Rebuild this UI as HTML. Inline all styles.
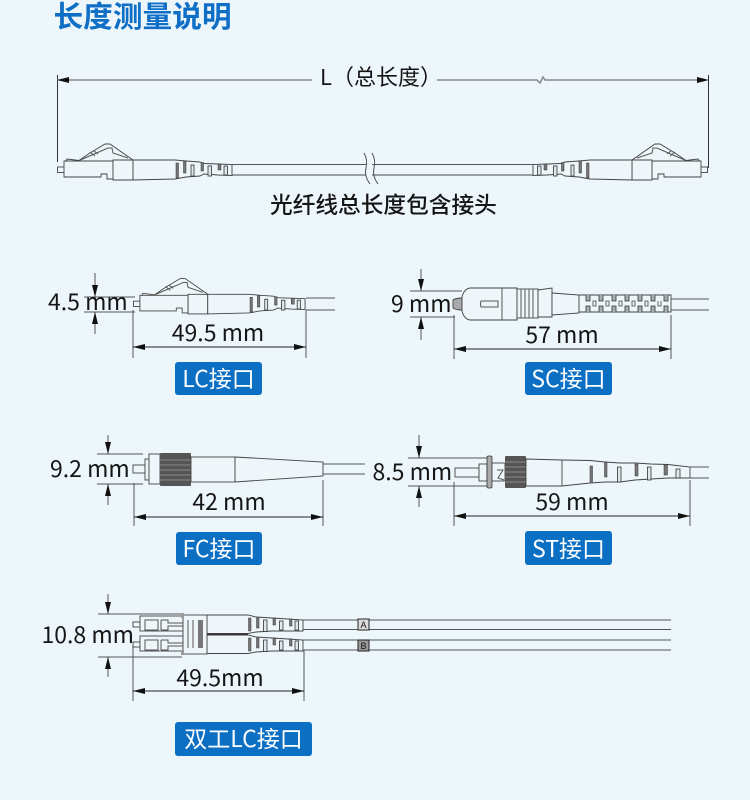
<!DOCTYPE html>
<html><head><meta charset="utf-8"><style>
html,body{margin:0;padding:0;background:#edf6fa}
svg{display:block}
text{font-family:"Liberation Sans","Noto Sans CJK SC",sans-serif}
.t{font-family:"Noto Sans CJK SC","Liberation Sans",sans-serif;font-size:23px;fill:#151515}
.b{font-family:"Noto Sans CJK SC","Liberation Sans",sans-serif;font-size:23px;fill:#fff;text-anchor:middle}
.d{stroke:#555;stroke-width:1;fill:none}
.o{stroke:#444;stroke-width:.9;fill:#eef6fa}
.a{fill:#111;stroke:none}
.r{fill:#777;stroke:#333;stroke-width:.5}
.s{fill:#dfe8ec;stroke:#333;stroke-width:.8}
</style></head><body>
<svg width="750" height="800" viewBox="0 0 750 800" xmlns="http://www.w3.org/2000/svg">
<defs>
<g id="lc">
<rect class="o" x="57.500" y="167" width="7" height="5.500"/>
<path class="o" d="M66 161L67 159L79 160.500L90 153L105 144L110 144L133 160V162H66Z"/>
<path class="d" d="M79 160.500L92 155L108 148L112 148L113 153L128 158M90 152L95 156M94 151L98 154"/>
<path class="o" d="M64 161H113V179H107V174H101V177H64Z"/>
<path class="o" d="M113 160H133V180H113Z"/>
<path class="o" d="M133 160H175L186 161L200 162L204 163.500L218 164L232 164.500V175.500L218 175L204 174L200 176L186 177L175 179L133 180Z"/>
<rect class="r" x="176" y="163" width="2.500" height="15"/>
<rect class="r" x="183.500" y="161" width="2.500" height="12"/>
<rect class="s" x="191" y="165" width="3" height="11"/>
<rect class="r" x="201" y="162.500" width="2.500" height="8.500"/>
<rect class="s" x="208" y="166" width="3.500" height="10"/>
<rect class="r" x="218" y="164" width="3" height="6"/>
<rect class="s" x="224" y="166" width="3.500" height="9"/>
</g>
<g id="dc">
<rect class="o" x="133" y="622" width="7" height="5"/>
<rect class="o" x="140" y="616" width="43" height="15"/>
<path class="d" d="M145 620H158V630H145ZM161 620V630M161 620H168V623H183M161 630H168V626H183"/>
<path class="o" d="M207 615H248L256 617L272 618L288 619L303 620V631L288 631L272 631L256 632L248 633.500H207Z"/>
<rect class="r" x="248.500" y="618" width="2.500" height="13"/>
<rect class="r" x="256.500" y="618" width="2.500" height="10"/>
<rect class="s" x="263.500" y="620" width="3.500" height="11.500"/>
<rect class="r" x="273" y="618" width="2.500" height="7"/>
<rect class="s" x="279.500" y="621" width="3.500" height="9"/>
<rect class="r" x="289.500" y="619" width="2.500" height="7"/>
<rect class="s" x="295" y="621" width="3.500" height="9"/>
</g>
</defs>
<rect width="750" height="800" fill="#edf6fa"/>
<text x="53.500" y="27" font-size="29.700" font-weight="700" fill="#0f6fc6" style='font-family:"Noto Sans CJK SC",sans-serif'>长度测量说明</text>

<!-- total -->
<path d="M57.500 75V162M708.500 75V168" stroke="#333" fill="none"/>
<path d="M57 80H312M437 80H537L540 83L543 77L545 80H698" stroke="#888" stroke-width="1.500" fill="none"/>
<path class="a" d="M57 80L69 77V83ZM709 80L697 77V83Z"/>
<text class="t" x="320" y="85" style="font-size:22px">L（总长度）</text>
<path d="M232 164.500H533" stroke="#555" fill="none"/>
<path d="M232 175H533" stroke="#808080" stroke-width="1.600" fill="none"/>
<use href="#lc"/>
<use href="#lc" transform="matrix(-1 0 0 1 765 0)"/>
<rect x="366" y="158" width="6" height="24" fill="#edf6fa"/>
<path d="M364 153Q368 160 366 168T370 184" stroke="#555" fill="none"/>
<path d="M372 153Q376 160 374 168T378 184" stroke="#555" fill="none"/>
<text class="t" x="270" y="213" style="font-size:22.700px;font-weight:500">光纤线总长度包含接头</text>

<!-- LC -->
<path class="d" d="M306 298H335M306 310H335"/>
<g transform="translate(77 137) scale(.983)"><use href="#lc"/></g>
<path class="d" d="M95 273V297M95 312V334M84 297H135M84 312H135M133 310V358M306 310V358"/>
<path class="d" style="stroke:#222" d="M133 347H306"/>
<path class="a" d="M95 297L92 285H98ZM95 312L92 324H98ZM133 347L145 344V350ZM306 347L294 344V350Z"/>
<text class="t" x="48" y="310">4.5 mm</text>
<text class="t" x="218" y="341" text-anchor="middle">49.5 mm</text>
<rect x="175" y="362" width="87" height="33" rx="3" fill="#0b6fc4"/>
<text class="b" x="218.500" y="387">LC接口</text>

<!-- SC -->
<path class="d" d="M410 291H462M410 317H455M421 269V291M421 317V340M454 315V359M671 315V359"/>
<path class="d" style="stroke:#222" d="M454 349H671"/>
<path class="a" d="M421 291L418 279H424ZM421 317L418 329H424ZM454 349L466 346V352ZM671 349L659 346V352Z"/>
<path class="o" d="M453 300Q456 298 462 298V310Q456 310 453 308Z" style="fill:#aaa"/>
<path class="o" d="M462 297Q464 289 470 288H502V320H470Q464 319 462 311Z"/>
<path class="o" d="M502 288H517V320H502Z"/>
<path class="d" d="M481 301H498V307H481Q480 304 481 301ZM502 288V298M502 310V320"/>
<rect class="o" x="517" y="289" width="21" height="29"/>
<path class="d" d="M521 289V318M525 289V318M529 289V318M533 289V318"/>
<path class="o" d="M538 290L552 288V317H538Z"/>
<path class="o" d="M552 293L579 295V313L552 315Z"/>
<path class="o" d="M579 295H671V312H579Z"/>
<path d="M586 295V301H590V295M599 295V301H603V295M612 295V301H616V295M625 295V301H629V295M638 295V301H642V295M651 295V301H655V295M664 295V301H668V295M586 312V306H590V312M599 312V306H603V312M612 312V306H616V312M625 312V306H629V312M638 312V306H642V312M651 312V306H655V312M664 312V306H668V312" fill="#a8b0b4" stroke="#333" stroke-width=".8"/>
<path d="M593 301V306H596V301ZM606 301V306H609V301ZM619 301V306H622V301ZM632 301V306H635V301ZM645 301V306H648V301ZM658 301V306H661V301" fill="none" stroke="#444" stroke-width=".8"/>
<path class="d" d="M671 299H709M671 310H709"/>
<text class="t" x="391" y="312">9 mm</text>
<text class="t" x="562" y="343" text-anchor="middle">57 mm</text>
<rect x="525" y="362" width="87" height="33" rx="3" fill="#0b6fc4"/>
<text class="b" x="568.500" y="387">SC接口</text>

<!-- FC -->
<path class="d" d="M97 454H143M97 484H143M108 435V454M108 484V505M134 483V526M323 480V526"/>
<path class="d" style="stroke:#222" d="M134 517H323"/>
<path class="a" d="M108 454L105 442H111ZM108 484L105 496H111ZM134 517L146 514V520ZM323 517L311 514V520Z"/>
<rect class="o" x="133" y="465" width="12" height="8"/>
<rect class="o" x="145" y="459" width="4" height="21"/>
<rect class="o" x="149" y="454" width="11" height="30"/>
<rect x="160" y="453" width="31" height="33" rx="1" fill="#555"/>
<path d="M160 460H191M160 465H191M160 470H191M160 475H191M160 480H191" stroke="#8a8a8a" stroke-width="1"/>
<rect class="o" x="191" y="457" width="44" height="25"/>
<path class="o" d="M235 457L323 462V476L235 482Z"/>
<path class="d" d="M323 464H365M323 474H365"/>
<text class="t" x="50" y="477">9.2 mm</text>
<text class="t" x="229" y="510" text-anchor="middle">42 mm</text>
<rect x="176" y="532" width="86" height="33" rx="3" fill="#0b6fc4"/>
<text class="b" x="219" y="557">FC接口</text>

<!-- ST -->
<path class="d" d="M408 458H487M408 486H487M419 435V458M419 486V507M454 482V526M690 480V526"/>
<path class="d" style="stroke:#222" d="M454 516H690"/>
<path class="a" d="M419 458L416 446H422ZM419 486L416 498H422ZM454 516L466 513V519ZM690 516L678 513V519Z"/>
<rect class="o" x="455" y="468" width="24" height="9"/>
<rect class="o" x="479" y="464" width="8" height="17"/>
<rect x="487" y="456" width="5" height="32" rx="1.500" fill="#aaa" stroke="#333" stroke-width=".8"/>
<rect class="o" x="492" y="463" width="13" height="18"/>
<path class="d" d="M497 470L503 470L498 478L504 480"/>
<rect x="505" y="456" width="21" height="32" rx="1" fill="#555"/>
<path d="M505 462H526M505 467H526M505 472H526M505 477H526M505 482H526" stroke="#8a8a8a"/>
<path class="o" d="M526 459L562 460L590 460.500L605 462L620 463L635 463L651 464L668 464.500L690 467V478L668 478L651 479L635 480L620 482L605 482L590 483L562 486H526Z"/>
<path class="d" d="M562 460V486"/>
<rect class="r" x="590" y="466" width="2.500" height="16"/>
<rect class="r" x="604.500" y="462" width="2.500" height="15"/>
<rect class="s" x="617.500" y="467" width="3.500" height="15"/>
<rect class="r" x="635" y="464" width="3" height="12"/>
<rect class="s" x="647.500" y="467" width="3.500" height="13"/>
<rect class="r" x="664" y="465" width="3.500" height="10"/>
<rect class="s" x="676" y="469" width="4" height="9"/>
<path class="d" d="M690 467H709M690 478H709"/>
<text class="t" x="372.500" y="480">8.5 mm</text>
<text class="t" x="572" y="510" text-anchor="middle">59 mm</text>
<rect x="525" y="531" width="87" height="34" rx="3" fill="#0b6fc4"/>
<text class="b" x="568.500" y="557">ST接口</text>

<!-- Duplex -->
<path d="M303 620H671M303 629.500H671M303 640H671M303 650H671" stroke="#555" fill="none"/>
<path class="d" d="M98 614H182M98 657H182M108 594V614M108 657V677M133 645V701M304 650V701"/>
<path class="d" style="stroke:#222" d="M133 691H304"/>
<path class="a" d="M108 614L105 602H111ZM108 657L105 669H111ZM133 691L145 688V694ZM304 691L292 688V694Z"/>
<use href="#dc"/>
<use href="#dc" transform="translate(0 20)"/>
<rect class="o" x="183" y="615" width="24" height="39"/>
<rect x="181" y="613" width="3" height="5" fill="#999"/>
<rect x="181" y="650" width="3" height="5" fill="#999"/>
<path class="d" d="M188 620V648M193 620V648"/>
<rect x="198" y="620" width="5" height="28" fill="#777"/>
<path d="M207 634.500H248" stroke="#333" stroke-width="1.500"/>
<rect x="358" y="619" width="11" height="11" fill="#ddd" stroke="#222"/>
<rect x="358" y="640" width="11" height="11" fill="#999" stroke="#222"/>
<text x="363.500" y="628" font-size="9" text-anchor="middle" fill="#111">A</text>
<text x="363.500" y="649" font-size="9" text-anchor="middle" fill="#111">B</text>
<text class="t" x="41.500" y="643">10.8 mm</text>
<text class="t" x="220" y="686" text-anchor="middle">49.5mm</text>
<rect x="175" y="722" width="137" height="34" rx="3" fill="#0b6fc4"/>
<text class="b" x="243.500" y="747">双工LC接口</text>
</svg>
</body></html>
